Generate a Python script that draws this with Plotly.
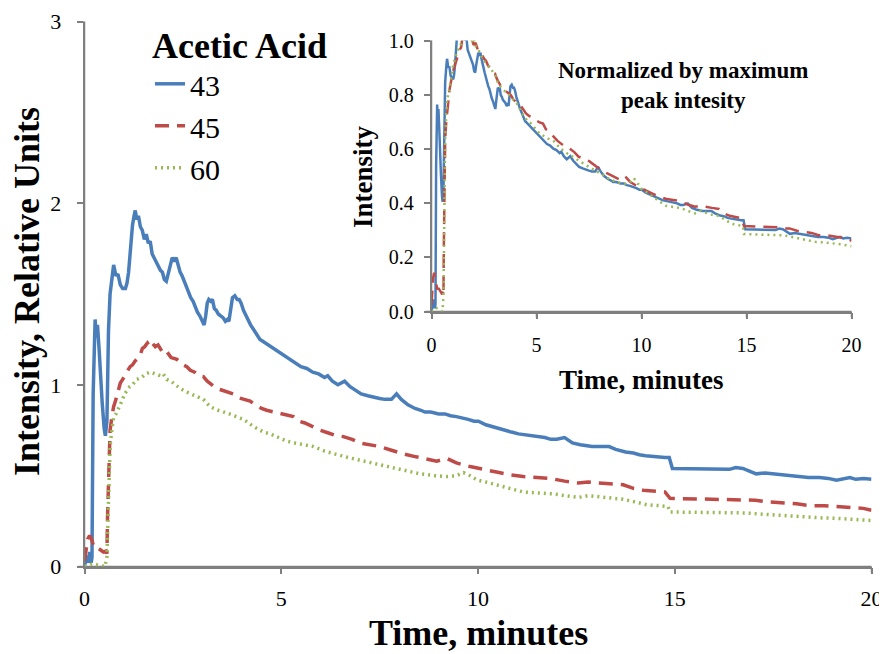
import plotly.graph_objects as go

# Acetic acid ion traces (m/z 43, 45, 60), intensity in relative units vs time (min)
t_43 = [0, 0.05, 0.1, 0.13, 0.17, 0.19, 0.22, 0.25, 0.27, 0.3, 0.33, 0.37, 0.4, 0.45,
        0.5, 0.53, 0.57, 0.59, 0.61, 0.65, 0.7, 0.74, 0.8, 0.85, 0.91, 0.97, 1.04, 1.08,
        1.12, 1.17, 1.22, 1.26, 1.29, 1.33, 1.37, 1.42, 1.47, 1.52, 1.57, 1.62, 1.67,
        1.72, 1.77, 1.82, 1.87, 1.93, 1.98, 2.03, 2.08, 2.13, 2.18, 2.23, 2.28, 2.33,
        2.38, 2.43, 2.48, 2.53, 2.58, 2.63, 2.7, 2.76, 2.82, 2.87, 2.93, 2.98, 3.04,
        3.08, 3.12, 3.16, 3.21, 3.25, 3.3, 3.35, 3.4, 3.46, 3.52, 3.58, 3.63, 3.67,
        3.72, 3.76, 3.82, 3.88, 3.93, 3.98, 4.04, 4.1, 4.16, 4.22, 4.28, 4.34, 4.4,
        4.46, 4.53, 4.6, 4.67, 4.74, 4.81, 4.88, 4.95, 5.05, 5.2, 5.35, 5.5, 5.65, 5.8,
        5.95, 6.1, 6.18, 6.3, 6.44, 6.55, 6.61, 6.75, 6.9, 7.03, 7.2, 7.35, 7.5, 7.63,
        7.8, 7.93, 8.05, 8.22, 8.4, 8.55, 8.65, 8.8, 9.0, 9.16, 9.3, 9.45, 9.58, 9.75,
        9.9, 10.01, 10.2, 10.35, 10.52, 10.7, 10.85, 11.03, 11.2, 11.38, 11.54, 11.7,
        11.85, 12.0, 12.2, 12.4, 12.6, 12.75, 12.9, 13.1, 13.33, 13.5, 13.75, 13.95,
        14.1, 14.26, 14.45, 14.6, 14.75, 14.86, 14.94, 16.39, 16.55, 16.73, 16.9,
        17.07, 17.3, 17.5, 17.7, 17.9, 18.17, 18.4, 18.68, 18.9, 19.11, 19.3, 19.45,
        19.6, 19.8, 20.0]
i_43 = [0.0, 0.06, 0.02, 0.08, 0.02, 0.05, 0.95, 1.3, 1.36, 1.26, 1.33, 1.2, 1.05, 0.9,
        0.76, 0.72, 0.8, 1.05, 1.3, 1.5, 1.6, 1.66, 1.6, 1.61, 1.55, 1.53, 1.53, 1.56,
        1.62, 1.78, 1.88, 1.93, 1.96, 1.91, 1.93, 1.87, 1.85, 1.8, 1.83, 1.78, 1.79,
        1.72, 1.7, 1.67, 1.65, 1.63, 1.62, 1.58, 1.57, 1.62, 1.67, 1.7, 1.68, 1.7,
        1.66, 1.62, 1.6, 1.57, 1.54, 1.52, 1.48, 1.46, 1.42, 1.4, 1.38, 1.36, 1.33,
        1.38, 1.45, 1.47, 1.46, 1.47, 1.42, 1.41, 1.39, 1.38, 1.37, 1.35, 1.36, 1.35,
        1.44, 1.48, 1.49, 1.47, 1.47, 1.45, 1.41, 1.38, 1.36, 1.33, 1.31, 1.29, 1.27,
        1.25, 1.24, 1.23, 1.22, 1.21, 1.2, 1.19, 1.18, 1.16, 1.14, 1.12, 1.1, 1.09, 1.07,
        1.06, 1.04, 1.05, 1.02, 1.0, 1.01, 1.02, 0.99, 0.97, 0.95, 0.94, 0.93, 0.925, 0.92,
        0.92, 0.95, 0.92, 0.89, 0.87, 0.86, 0.85, 0.85, 0.84, 0.84, 0.83, 0.825, 0.82, 0.81,
        0.8, 0.8, 0.78, 0.77, 0.76, 0.75, 0.74, 0.73, 0.725, 0.72, 0.715, 0.71,
        0.7, 0.7, 0.71, 0.68, 0.67, 0.665, 0.66, 0.66, 0.66, 0.645, 0.63, 0.625,
        0.615, 0.61, 0.605, 0.6, 0.6, 0.6, 0.54, 0.535, 0.545, 0.54, 0.525,
        0.51, 0.515, 0.51, 0.505, 0.5, 0.495, 0.49, 0.49, 0.485, 0.475, 0.485, 0.49,
        0.48, 0.485, 0.48]

t_45 = [0, 0.04, 0.08, 0.13, 0.18, 0.22, 0.27, 0.35, 0.4, 0.48, 0.55, 0.57, 0.585, 0.62,
        0.65, 0.7, 0.74, 0.8, 0.85, 0.91, 0.97, 1.04, 1.1, 1.16, 1.22, 1.28, 1.35, 1.41,
        1.47, 1.53, 1.6, 1.66, 1.72, 1.8, 1.87, 1.94, 2.01, 2.1, 2.2, 2.35, 2.5, 2.6,
        2.69, 2.8, 2.9, 3.02, 3.12, 3.24, 3.36, 3.5, 3.65, 3.78, 3.9, 4.05, 4.21, 4.35,
        4.5, 4.63, 4.8, 5.0, 5.15, 5.31, 5.45, 5.6, 5.8, 5.99, 6.2, 6.4, 6.58, 6.8, 7.0,
        7.25, 7.51, 7.8, 8.1, 8.4, 8.7, 8.95, 9.21, 9.45, 9.8, 10.1, 10.47, 10.8, 11.15,
        11.5, 11.83, 12.2, 12.55, 12.8, 13.01, 13.35, 13.69, 13.95, 14.2, 14.5, 14.75,
        14.88, 16.2, 16.57, 16.8, 17.05, 17.4, 17.76, 18.1, 18.43, 18.8, 19.11, 19.5,
        19.79, 20.0]
i_45 = [0.03, 0.1, 0.15, 0.17, 0.15, 0.12, 0.1, 0.1, 0.09, 0.08, 0.085, 0.07, 0.27, 0.55,
        0.75, 0.83, 0.88, 0.92, 0.97, 1.01, 1.03, 1.06, 1.08, 1.1, 1.11, 1.13, 1.15, 1.16,
        1.2, 1.21, 1.23, 1.21, 1.23, 1.21, 1.22, 1.19, 1.17, 1.18, 1.15, 1.14, 1.11, 1.1,
        1.08, 1.07, 1.05, 1.045, 1.02, 1.0, 0.98, 0.97, 0.96, 0.95, 0.93, 0.92, 0.91, 0.89,
        0.87, 0.86, 0.85, 0.84, 0.83, 0.825, 0.8, 0.79, 0.77, 0.75, 0.735, 0.72, 0.715,
        0.7, 0.68, 0.67, 0.66, 0.64, 0.62, 0.605, 0.59, 0.58, 0.595, 0.57, 0.55, 0.535,
        0.52, 0.505, 0.495, 0.49, 0.485, 0.47, 0.46, 0.465, 0.46, 0.455, 0.45, 0.43,
        0.42, 0.415, 0.41, 0.375, 0.37, 0.37, 0.365, 0.365, 0.355, 0.35, 0.345, 0.335,
        0.335, 0.33, 0.325, 0.32, 0.31]

t_60 = [0, 0.1, 0.2, 0.3, 0.4, 0.52, 0.57, 0.59, 0.61, 0.63, 0.65, 0.7, 0.74, 0.8, 0.87,
        0.95, 1.02, 1.08, 1.15, 1.22, 1.33, 1.45, 1.55, 1.67, 1.8, 1.93, 2.0, 2.09, 2.2,
        2.3, 2.43, 2.6, 2.77, 2.9, 3.02, 3.19, 3.4, 3.62, 3.85, 4.04, 4.3, 4.55, 4.72,
        4.95, 5.14, 5.35, 5.55, 5.82, 6.1, 6.41, 6.7, 7.0, 7.17, 7.5, 7.93, 8.2, 8.53,
        8.9, 9.2, 9.45, 9.63, 9.8, 9.97, 10.2, 10.48, 10.8, 11.15, 11.5, 11.9, 12.2,
        12.55, 12.8, 13.0, 13.35, 13.69, 14.0, 14.29, 14.6, 14.83, 14.88, 16.36, 16.78,
        17.1, 17.42, 17.85, 18.27, 18.7, 19.11, 19.5, 20.0]
i_60 = [0.0, 0.01, 0.015, 0.01, 0.005, 0.0, 0.055, 0.2, 0.385, 0.55, 0.66, 0.76, 0.82,
        0.84, 0.87, 0.91, 0.95, 0.97, 0.99, 1.0, 1.03, 1.04, 1.06, 1.07, 1.06, 1.05, 1.06,
        1.03, 1.02, 1.0, 0.98, 0.96, 0.945, 0.93, 0.92, 0.88, 0.86, 0.845, 0.825, 0.81,
        0.77, 0.74, 0.73, 0.71, 0.69, 0.68, 0.67, 0.66, 0.635, 0.615, 0.6, 0.585, 0.577,
        0.56, 0.54, 0.525, 0.51, 0.5, 0.495, 0.5, 0.517, 0.5, 0.477, 0.465, 0.45, 0.43,
        0.41, 0.405, 0.4, 0.39, 0.38, 0.39, 0.385, 0.375, 0.37, 0.355, 0.34, 0.335, 0.33,
        0.3, 0.298, 0.295, 0.29, 0.285, 0.278, 0.27, 0.268, 0.265, 0.26, 0.253]

# peak intensity each trace was divided by for the inset
peak_43, peak_45, peak_60 = 1.78, 1.19, 1.05

# tick values
time_ticks = [0, 5, 10, 15, 20]
main_y_ticks = [0, 1, 2, 3]
inset_y_ticks = [0.0, 0.2, 0.4, 0.6, 0.8, 1.0]

FONT = "Liberation Serif"
AXIS_GREY = "#7f7f7f"
W, H = 887, 654
PAGE_PAD = 8  # the page body offsets the figure by this many pixels
TICK_PX = 6


def px(x):
    return (x - PAGE_PAD) / W


def py(y):
    return 1 - (y - PAGE_PAD) / H


main_box = (84.5, 871.5, 21.5, 566.5)    # left, right, top, bottom in pixels
inset_box = (431.5, 851.5, 40.5, 311.5)

series = [
    ("43", t_43, i_43, peak_43, "#4A7EBB", "solid"),
    ("45", t_45, i_45, peak_45, "#BE4B48", "14px,8px"),
    ("60", t_60, i_60, peak_60, "#98B954", "2px,4px"),
]

fig = go.Figure()

for name, t, y, peak, color, dash in series:
    fig.add_trace(go.Scatter(x=t, y=y, name=name, mode="lines",
                             line=dict(color=color, width=3.5, dash=dash)))
for name, t, y, peak, color, dash in series:
    fig.add_trace(go.Scatter(x=t, y=[v / peak for v in y], name=name, mode="lines",
                             line=dict(color=color, width=2.5, dash=dash),
                             xaxis="x2", yaxis="y2", showlegend=False))

axis_common = dict(showline=True, linecolor=AXIS_GREY, linewidth=1.5, ticks="outside",
                   tickcolor=AXIS_GREY, tickwidth=1.5, ticklen=TICK_PX, showgrid=False,
                   zeroline=False, automargin=False)


def frame_shapes(xa, ya, box, xticks, yticks):
    """Axis lines and outside tick marks for one subplot, drawn as shapes."""
    left, right, top, bottom = box
    dx = TICK_PX / (right - left)
    dy = TICK_PX / (bottom - top)
    grey = dict(color=AXIS_GREY, width=1.5)
    out = [
        dict(type="line", xref=f"{xa} domain", yref=f"{ya} domain",
             x0=0, x1=1, y0=0, y1=0, line=grey, layer="below"),
        dict(type="line", xref=f"{xa} domain", yref=f"{ya} domain",
             x0=0, x1=0, y0=0, y1=1, line=grey, layer="below"),
    ]
    for v in xticks:
        out.append(dict(type="line", xref=xa, yref=f"{ya} domain",
                        x0=v, x1=v, y0=0, y1=-dy, line=grey, layer="below"))
    for v in yticks:
        out.append(dict(type="line", xref=f"{xa} domain", yref=ya,
                        x0=0, x1=-dx, y0=v, y1=v, line=grey, layer="below"))
    return out


def label(text, x, y, size, angle=0):
    return dict(text=text, x=px(x), y=py(y), xref="paper", yref="paper",
                xanchor="center", yanchor="middle", showarrow=False,
                textangle=angle, font=dict(size=size))


fig.update_layout(
    width=W, height=H,
    margin=dict(l=0, r=0, t=0, b=0),
    paper_bgcolor="white", plot_bgcolor="rgba(0,0,0,0)",
    font=dict(family=FONT, color="black"),
    xaxis=dict(domain=[px(main_box[0]), px(main_box[1])], range=[0, 20],
               tickvals=time_ticks, tickfont=dict(size=22), ticklabelstandoff=5,
               **axis_common),
    yaxis=dict(domain=[py(main_box[3]), py(main_box[2])], range=[0, 3],
               tickvals=main_y_ticks, tickfont=dict(size=22), ticklabelstandoff=11,
               **axis_common),
    xaxis2=dict(domain=[px(inset_box[0]), px(inset_box[1])], range=[0, 20], anchor="y2",
                tickvals=time_ticks, tickfont=dict(size=20), ticklabelstandoff=9,
                **axis_common),
    yaxis2=dict(domain=[py(inset_box[3]), py(inset_box[2])], range=[0, 1], anchor="x2",
                tickvals=inset_y_ticks, tickformat=".1f", tickfont=dict(size=20),
                ticklabelstandoff=6, **axis_common),
    legend=dict(x=px(150), y=py(11), xanchor="left", yanchor="top",
                title=dict(text="<b>Acetic Acid</b>", font=dict(size=36)),
                font=dict(size=30), bgcolor="rgba(0,0,0,0)", itemwidth=30),
    shapes=(frame_shapes("x", "y", main_box, time_ticks, main_y_ticks)
            + frame_shapes("x2", "y2", inset_box, time_ticks, inset_y_ticks)),
    annotations=[
        label("<b>Time, minutes</b>", 478, 633, 36),
        label("<b>Intensity, Relative Units</b>", 27, 292, 36, -90),
        label("<b>Time, minutes</b>", 641, 380, 27),
        label("<b>Intensity</b>", 363, 177, 27, -90),
        label("<b>Normalized by maximum<br>peak intesity</b>", 683, 86, 23),
    ],
)

fig.write_html("out.html")
